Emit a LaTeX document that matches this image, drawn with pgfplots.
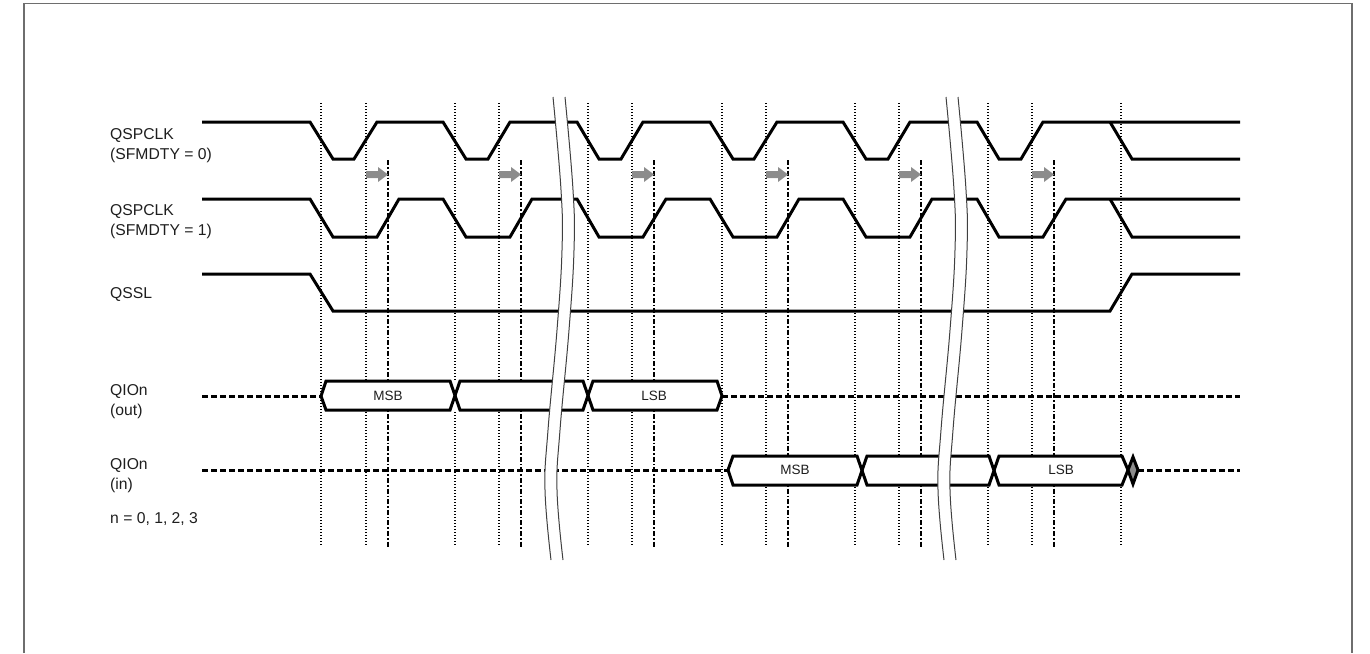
\documentclass[border=0pt]{standalone}
\usepackage{fontspec}
\setmainfont{Liberation Sans}
\usepackage{pgfplots}
\pgfplotsset{compat=1.18}

\definecolor{arrowgray}{HTML}{8C8C8C}
\definecolor{framegray}{HTML}{6E6E6E}
\definecolor{txt}{HTML}{1E1E1E}

\tikzset{
  sig/.style={black, line width=3pt, line join=miter},
  float/.style={black, line width=3pt, dash pattern=on 6pt off 3pt},
  dotline/.style={black, line width=1.4pt, dash pattern=on 1.4pt off 1.6pt},
  dashdot/.style={black, line width=1.8pt, dash pattern=on 5pt off 2pt on 1.6pt off 2pt},
  brk/.style={black!75, line width=1pt, smooth, tension=0.7},
  lab/.style={anchor=base west, font=\fontsize{15.7}{19}\selectfont, text=txt, inner sep=0pt},
  blab/.style={anchor=center, font=\fontsize{13.5}{16}\selectfont, text=txt, inner sep=0pt},
}

\begin{document}
\begin{tikzpicture}
\begin{axis}[
  x=1pt, y=1pt, y dir=reverse,
  xmin=0, xmax=1370, ymin=0, ymax=653,
  hide axis, clip=false,
]
% page extent
\addplot[draw=none] coordinates {(0,0) (1370,653)};

% frame
\addplot[framegray, line width=1.6pt] coordinates {(24,653) (24,3.5) (1352,3.5) (1352,653)};

% vertical guide lines
\pgfplotsinvokeforeach{321,366,455,499,588,632,722,766,855,899,988,1032,1121}{
  \addplot[dotline] coordinates {(#1,103) (#1,545)};
}
\pgfplotsinvokeforeach{388,521,654,788,921,1054}{
  \addplot[dashdot] coordinates {(#1,160) (#1,548)};
}

% gray arrows
\pgfplotsinvokeforeach{366,499,632,766,899,1032}{
  \addplot[fill=arrowgray, draw=none] coordinates {
    (#1,171) (#1+12,171) (#1+12,167) (#1+22,174.5) (#1+12,182) (#1+12,178) (#1,178)};
}

% QSPCLK (SFMDTY = 0)
\addplot[sig] coordinates {
  (202,122) (310,122) (333,159) (354,159) (377,122)
  (443,122) (466,159) (488,159) (510,122)
  (577,122) (599,159) (621,159) (643,122)
  (710,122) (733,159) (754,159) (777,122)
  (843,122) (866,159) (888,159) (910,122)
  (977,122) (999,159) (1021,159) (1043,122)
  (1240,122)};
\addplot[sig] coordinates {(1110,122) (1132,159) (1240,159)};

% QSPCLK (SFMDTY = 1)
\addplot[sig] coordinates {
  (202,199) (310,199) (333,237) (377,237) (399,199)
  (443,199) (466,237) (510,237) (532,199)
  (577,199) (599,237) (643,237) (666,199)
  (710,199) (733,237) (777,237) (799,199)
  (843,199) (866,237) (910,237) (932,199)
  (977,199) (999,237) (1043,237) (1066,199)
  (1240,199)};
\addplot[sig] coordinates {(1110,199) (1132,237) (1240,237)};

% QSSL
\addplot[sig] coordinates {(202,274) (310,274) (333,311) (1110,311) (1132,274) (1240,274)};

% QIOn (out)
\addplot[float] coordinates {(202,396) (321,396)};
\addplot[float] coordinates {(722,396) (1240,396)};
\addplot[fill=white, draw=none] coordinates {(321,396) (326,381) (717,381) (722,396) (717,410) (326,410)};
\addplot[sig] coordinates {(321,396) (326,381) (450,381) (460,410) (583,410) (593,381) (717,381) (722,396)};
\addplot[sig] coordinates {(321,396) (326,410) (450,410) (460,381) (583,381) (593,410) (717,410) (722,396)};

% QIOn (in)
\addplot[float] coordinates {(202,470) (728,470)};
\addplot[float] coordinates {(1138,470) (1240,470)};
\addplot[fill=white, draw=none] coordinates {(728,470) (733,456) (1122,456) (1128,470) (1122,485) (733,485)};
\addplot[sig] coordinates {(728,470) (733,456) (857,456) (867,485) (989,485) (999,456) (1122,456) (1128,470)};
\addplot[sig] coordinates {(728,470) (733,485) (857,485) (867,456) (989,456) (999,485) (1122,485) (1128,470)};
\addplot[sig, fill=arrowgray] coordinates {(1128,470) (1133,457) (1138,470) (1133,484) (1128,470)};

% time breaks
\addplot[fill=white, draw=none, smooth, tension=0.7] coordinates {
  (553,97) (561,190) (562,250) (557,330) (548,430) (545,490) (551,560)
  (563,560) (557,490) (560,430) (569,330) (574,250) (573,190) (565,97)};
\addplot[brk] coordinates {(553,97) (561,190) (562,250) (557,330) (548,430) (545,490) (551,560)};
\addplot[brk] coordinates {(565,97) (573,190) (574,250) (569,330) (560,430) (557,490) (563,560)};

\addplot[fill=white, draw=none, smooth, tension=0.7] coordinates {
  (946,97) (954,190) (955,250) (950,330) (941,430) (938,490) (944,560)
  (956,560) (950,490) (953,430) (962,330) (967,250) (966,190) (958,97)};
\addplot[brk] coordinates {(946,97) (954,190) (955,250) (950,330) (941,430) (938,490) (944,560)};
\addplot[brk] coordinates {(958,97) (966,190) (967,250) (962,330) (953,430) (950,490) (956,560)};

% bus labels
\node[blab] at (axis cs:388,396) {MSB};
\node[blab] at (axis cs:654,396) {LSB};
\node[blab] at (axis cs:795,470) {MSB};
\node[blab] at (axis cs:1061,470) {LSB};

% signal names
\node[lab] at (axis cs:110,139) {QSPCLK};
\node[lab] at (axis cs:110,159) {(SFMDTY = 0)};
\node[lab] at (axis cs:110,215) {QSPCLK};
\node[lab] at (axis cs:110,235) {(SFMDTY = 1)};
\node[lab] at (axis cs:110,298) {QSSL};
\node[lab] at (axis cs:110,395) {QIOn};
\node[lab] at (axis cs:110,415) {(out)};
\node[lab] at (axis cs:110,469) {QIOn};
\node[lab] at (axis cs:110,489) {(in)};
\node[lab] at (axis cs:110,523) {n = 0, 1, 2, 3};
\end{axis}
\end{tikzpicture}
\end{document}
